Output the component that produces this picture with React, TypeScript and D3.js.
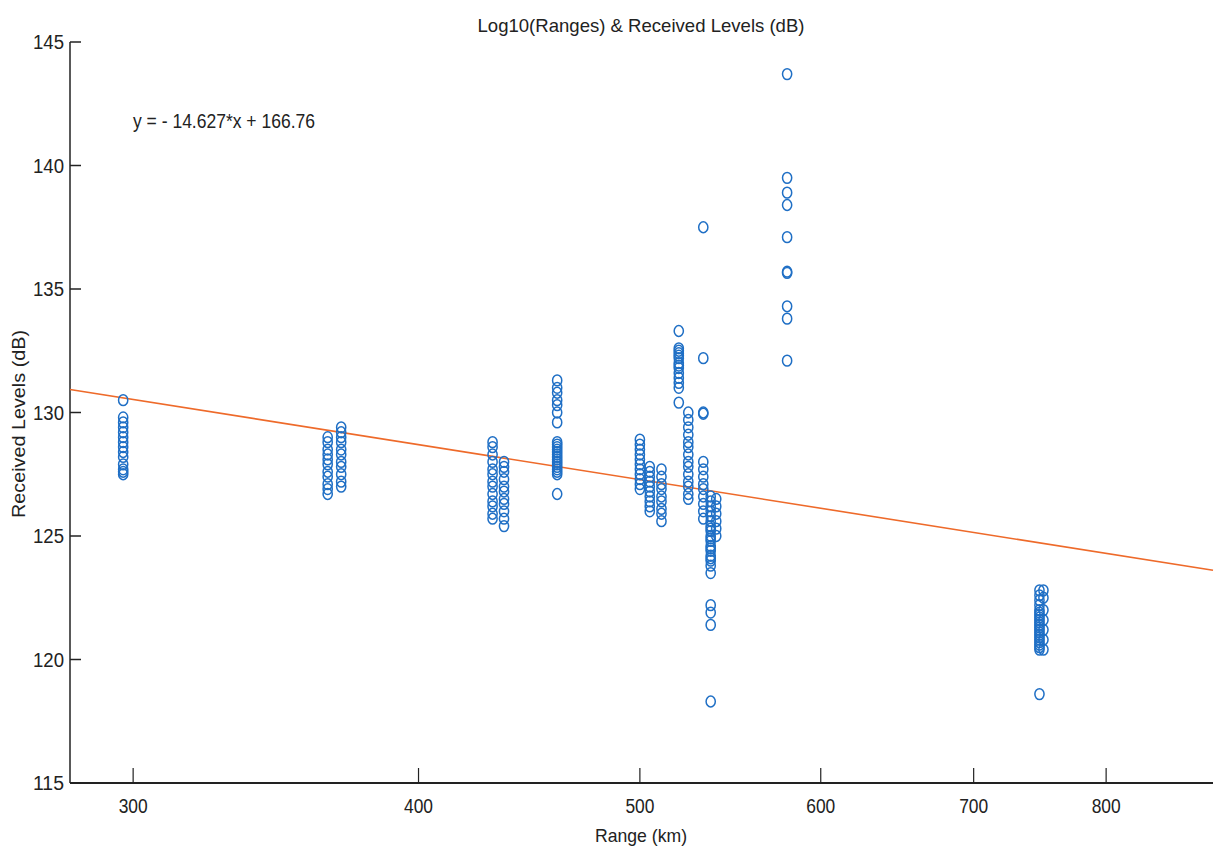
import React from "react";
import * as d3 from "d3";

// ---- Data ----
const title = "Log10(Ranges) & Received Levels (dB)";
const xLabel = "Range (km)";
const yLabel = "Received Levels (dB)";
const equationText = "y = - 14.627*x + 166.76";
const slope = -14.627;
const intercept = 166.76;

const xTicks = [300, 400, 500, 600, 700, 800];
const yTicks = [115, 120, 125, 130, 135, 140, 145];

// received levels (dB) measured at each range (km)
const levels297 = [130.5, 129.8, 129.6, 129.4, 129.2, 129.0, 128.8, 128.6, 128.4, 128.2, 127.9, 127.7, 127.6, 127.5];
const levels365 = [129.0, 128.8, 128.5, 128.3, 128.1, 127.9, 127.6, 127.4, 127.1, 126.9, 126.7];
const levels370 = [129.4, 129.2, 129.0, 128.8, 128.5, 128.3, 128.0, 127.8, 127.5, 127.2, 127.0];
const levels431 = [128.8, 128.6, 128.3, 128.0, 127.7, 127.5, 127.2, 127.0, 126.7, 126.4, 126.2, 125.9, 125.7];
const levels436 = [128.0, 127.8, 127.6, 127.3, 127.0, 126.8, 126.5, 126.3, 126.0, 125.7, 125.4];
const levels460 = [131.3, 131.0, 130.8, 130.5, 130.3, 130.0, 129.6, 128.8, 128.7, 128.6, 128.5, 128.4, 128.3, 128.2, 128.1, 128.0, 127.9, 127.8, 127.7, 127.6, 127.5, 126.7];
const levels500 = [128.9, 128.7, 128.5, 128.3, 128.1, 127.9, 127.7, 127.5, 127.3, 127.1, 126.9];
const levels505 = [127.8, 127.6, 127.4, 127.2, 127.0, 126.8, 126.6, 126.4, 126.2, 126.0];
const levels511 = [127.7, 127.4, 127.1, 126.9, 126.6, 126.4, 126.1, 125.9, 125.6];
const levels520 = [133.3, 132.6, 132.5, 132.4, 132.3, 132.2, 132.0, 131.9, 131.8, 131.6, 131.4, 131.2, 131.0, 130.4];
const levels525 = [130.0, 129.7, 129.4, 129.1, 128.8, 128.6, 128.3, 128.0, 127.8, 127.5, 127.2, 127.0, 126.7, 126.5];
const levels533 = [137.5, 132.2, 130.0, 129.95, 128.0, 127.7, 127.4, 127.1, 126.9, 126.6, 126.3, 126.0, 125.7];
const levels537 = [126.6, 126.4, 126.2, 126.0, 125.8, 125.6, 125.4, 125.3, 125.2, 125.0, 124.9, 124.8, 124.6, 124.5, 124.4, 124.2, 124.1, 124.0, 123.8, 123.5, 122.2, 121.9, 121.4, 118.3];
const levels540 = [126.5, 126.2, 125.9, 125.6, 125.3, 125.0];
const levels580 = [143.7, 139.5, 138.9, 138.4, 137.1, 135.7, 135.65, 134.3, 133.8, 132.1];
const levels748 = [122.8, 122.6, 122.4, 122.2, 122.0, 121.9, 121.8, 121.7, 121.6, 121.5, 121.4, 121.3, 121.2, 121.1, 121.0, 120.9, 120.8, 120.7, 120.6, 120.5, 120.4, 118.6];
const levels751 = [122.8, 122.5, 122.0, 121.6, 121.2, 120.8, 120.4];

const ranges = [297, 365, 370, 431, 436, 460, 500, 505, 511, 520, 525, 533, 537, 540, 580, 748, 751];
const levelGroups = [
  levels297, levels365, levels370, levels431, levels436, levels460, levels500, levels505,
  levels511, levels520, levels525, levels533, levels537, levels540, levels580, levels748, levels751,
];

const points = ranges.flatMap((r, i) => levelGroups[i].map((v) => ({ r, v })));

// ---- Layout ----
const W = 1217;
const H = 856;
const left = 70;
const right = 1213;
const top = 42;
const bottom = 783;

const font = "Arial, 'Liberation Sans', Helvetica, sans-serif";

export default function App() {
  const x = d3.scaleLog().domain([281.5, 891]).range([left, right]);
  const y = d3.scaleLinear().domain([115, 145]).range([bottom, top]);

  const fitLine = d3
    .line<number>()
    .x((d) => x(d))
    .y((d) => y(slope * Math.log10(d) + intercept));
  const fitXs = [281.5, 891];

  return (
    <svg
      width={W}
      height={H}
      style={{ position: "absolute", left: 0, top: 0, background: "#fff" }}
      fontFamily={font}
    >
      <rect x={0} y={0} width={W} height={H} fill="#fff" />
      {/* title */}
      <text x={641} y={32} textAnchor="middle" fontSize={19} fill="#222" textLength={327} lengthAdjust="spacingAndGlyphs">
        {title}
      </text>
      {/* equation */}
      <text x={133} y={128} fontSize={21} fill="#222" textLength={182} lengthAdjust="spacingAndGlyphs">
        {equationText}
      </text>

      {/* axes */}
      <line x1={left} y1={top} x2={left} y2={bottom} stroke="#222" strokeWidth={1.5} />
      <line x1={left} y1={bottom} x2={right} y2={bottom} stroke="#222" strokeWidth={1.8} />

      {yTicks.map((t) => (
        <g key={"y" + t}>
          <line x1={left} y1={y(t)} x2={left + 11} y2={y(t)} stroke="#222" strokeWidth={1.5} />
          <text x={left - 6} y={y(t) + 7} textAnchor="end" fontSize={20} fill="#222" textLength={31} lengthAdjust="spacingAndGlyphs">
            {t}
          </text>
        </g>
      ))}
      {xTicks.map((t) => (
        <g key={"x" + t}>
          <line x1={x(t)} y1={bottom} x2={x(t)} y2={bottom - 15} stroke="#222" strokeWidth={1.2} />
          <text x={x(t)} y={bottom + 30} textAnchor="middle" fontSize={20} fill="#222" textLength={29} lengthAdjust="spacingAndGlyphs">
            {t}
          </text>
        </g>
      ))}

      <text x={641} y={842} textAnchor="middle" fontSize={19} fill="#222" textLength={92} lengthAdjust="spacingAndGlyphs">
        {xLabel}
      </text>
      <text
        transform={`translate(25, ${424}) rotate(-90)`}
        textAnchor="middle"
        fontSize={19}
        fill="#222"
        textLength={188}
        lengthAdjust="spacingAndGlyphs"
      >
        {yLabel}
      </text>

      {/* regression line */}
      <path d={fitLine(fitXs) || ""} fill="none" stroke="#EE6A2A" strokeWidth={1.6} />

      {/* data points */}
      {points.map((p, i) => (
        <ellipse
          key={i}
          cx={x(p.r)}
          cy={y(p.v)}
          rx={4.6}
          ry={5.4}
          fill="none"
          stroke="#1F6FC5"
          strokeWidth={1.5}
        />
      ))}
    </svg>
  );
}
